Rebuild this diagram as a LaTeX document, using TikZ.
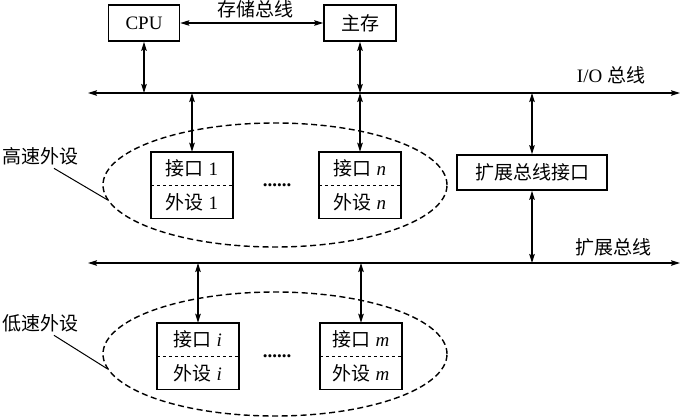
\documentclass[tikz,border=0pt]{standalone}
\usepackage{fontspec}
\setmainfont{Liberation Serif}
\newfontfamily\cjk{Noto Sans CJK SC}
\usetikzlibrary{arrows.meta,positioning,calc,shapes.geometric}
\newcommand{\zh}[1]{{\cjk #1}}

\begin{document}
\begin{tikzpicture}[x=1pt,y=-1pt,>={Stealth[length=9pt,width=5.5pt,inset=1.5pt]},
font=\fontsize{19}{22}\selectfont,
box/.style={draw,line width=1.6pt,minimum height=36pt,inner sep=3pt},
half/.style={minimum width=82pt,minimum height=33pt,inner sep=0pt},
grp/.style={draw,ellipse,dash pattern=on 6pt off 3.5pt,line width=1.4pt,minimum width=344pt,minimum height=124pt,inner sep=0pt},
bus/.style={<->,line width=1.3pt},
link/.style={<->,line width=1.3pt}]
\useasboundingbox (0,0) rectangle (682,418);
% CPU and memory
\node[box,minimum width=71pt] (cpu) at (144,23) {CPU};
\node[box,minimum width=72pt] (mem) at (360,23) {\zh{主存}};
\node (sbl) at (255,9) {\zh{存储总线}};
\draw[link] (cpu.east) -- (mem.west);
% I/O bus
\coordinate (iow) at (88,93);
\coordinate (ioe) at (680,93);
\draw[bus] (iow) -- (ioe);
\node (iol) at (611,75) {I/O \zh{总线}};
\draw[link] (cpu.south) -- (cpu.south |- iow);
\draw[link] (mem.south) -- (mem.south |- iow);
% high speed devices
\node[half] (h1t) at (192,168.5) {\zh{接口}~1};
\node[half,below=0pt of h1t] (h1b) {\zh{外设}~1};
\node[half] (hnt) at (360,168.5) {\zh{接口}~\textit{n}};
\node[half,below=0pt of hnt] (hnb) {\zh{外设}~\textit{n}};
\foreach \d in {h1,hn}{
  \draw[line width=1.6pt] (\d t.north west) rectangle (\d b.south east);
  \draw[dashed,line width=1pt] (\d t.south west) -- (\d t.south east);
  \draw[link] (\d t.north |- iow) -- (\d t.north);
}
\node (hdots) at (277,185) {\textbf{......}};
\node[grp] (hgrp) at (275,185) {};
\node (hlab) at (40,156) {\zh{高速外设}};
\draw[line width=1pt] ([xshift=14pt]hlab.south) -- (hgrp.185);
% expansion bus
\node[box,minimum width=150pt,minimum height=35pt] (xif) at (532,172.5) {\zh{扩展总线接口}};
\coordinate (extw) at (88,263);
\coordinate (exte) at (680,263);
\draw[bus] (extw) -- (exte);
\node (extl) at (613,247) {\zh{扩展总线}};
\draw[link] (xif.north |- iow) -- (xif.north);
\draw[link] (xif.south) -- (xif.south |- extw);
% low speed devices
\node[half] (lit) at (198,339.5) {\zh{接口}~\textit{i}};
\node[half,below=0pt of lit] (lib) {\zh{外设}~\textit{i}};
\node[half] (lmt) at (361,339.5) {\zh{接口}~\textit{m}};
\node[half,below=0pt of lmt] (lmb) {\zh{外设}~\textit{m}};
\foreach \d in {li,lm}{
  \draw[line width=1.6pt] (\d t.north west) rectangle (\d b.south east);
  \draw[dashed,line width=1pt] (\d t.south west) -- (\d t.south east);
  \draw[link] (\d t.north |- extw) -- (\d t.north);
}
\node (ldots) at (277,356) {\textbf{......}};
\node[grp] (lgrp) at (275,354) {};
\node (llab) at (40,323) {\zh{低速外设}};
\draw[line width=1pt] ([xshift=14pt]llab.south) -- (lgrp.185);
\end{tikzpicture}
\end{document}
